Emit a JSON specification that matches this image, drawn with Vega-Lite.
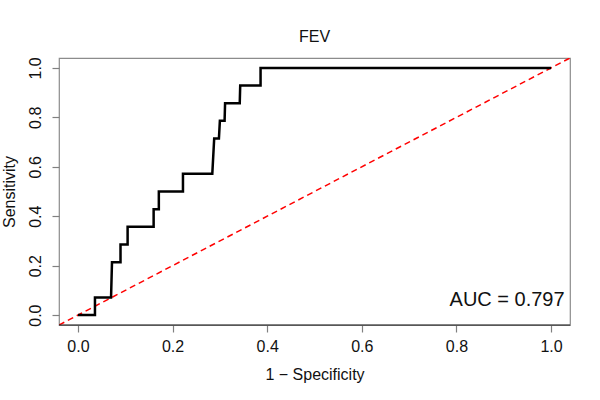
{
  "$schema": "https://vega.github.io/schema/vega-lite/v6.json",
  "width": 511,
  "height": 267,
  "autosize": "none",
  "padding": {"left": 59, "top": 58, "right": 30, "bottom": 75},
  "background": "white",
  "config": {
    "font": "Liberation Sans",
    "view": {"stroke": "#8c8c8c", "strokeWidth": 1.2},
    "axis": {
      "grid": false,
      "domain": false,
      "tickColor": "#808080",
      "tickSize": 7,
      "tickWidth": 1.2,
      "labelFont": "Liberation Sans",
      "labelFontSize": 16,
      "labelColor": "#111",
      "titleFont": "Liberation Sans",
      "titleFontSize": 16,
      "titleFontWeight": "normal",
      "titleColor": "#111"
    }
  },
  "title": {
    "text": "FEV",
    "font": "Liberation Sans",
    "fontSize": 16,
    "fontWeight": "normal",
    "color": "#111",
    "offset": 12
  },
  "datasets": {
    "roc": [
      {"i": 0, "fpr": 0.0, "tpr": 0.0},
      {"i": 1, "fpr": 0.036, "tpr": 0.0},
      {"i": 2, "fpr": 0.036, "tpr": 0.0714},
      {"i": 3, "fpr": 0.07, "tpr": 0.0714},
      {"i": 4, "fpr": 0.072, "tpr": 0.2143},
      {"i": 5, "fpr": 0.09, "tpr": 0.2143},
      {"i": 6, "fpr": 0.09, "tpr": 0.2857},
      {"i": 7, "fpr": 0.105, "tpr": 0.2857},
      {"i": 8, "fpr": 0.105, "tpr": 0.3571},
      {"i": 9, "fpr": 0.16, "tpr": 0.3571},
      {"i": 10, "fpr": 0.16, "tpr": 0.4286},
      {"i": 11, "fpr": 0.171, "tpr": 0.4286},
      {"i": 12, "fpr": 0.171, "tpr": 0.5},
      {"i": 13, "fpr": 0.222, "tpr": 0.5},
      {"i": 14, "fpr": 0.222, "tpr": 0.5714},
      {"i": 15, "fpr": 0.284, "tpr": 0.5714},
      {"i": 16, "fpr": 0.288, "tpr": 0.7143},
      {"i": 17, "fpr": 0.298, "tpr": 0.7143},
      {"i": 18, "fpr": 0.3, "tpr": 0.7857},
      {"i": 19, "fpr": 0.31, "tpr": 0.7857},
      {"i": 20, "fpr": 0.311, "tpr": 0.8571},
      {"i": 21, "fpr": 0.342, "tpr": 0.8571},
      {"i": 22, "fpr": 0.343, "tpr": 0.9286},
      {"i": 23, "fpr": 0.386, "tpr": 0.9286},
      {"i": 24, "fpr": 0.386, "tpr": 1.0},
      {"i": 25, "fpr": 1.0, "tpr": 1.0}
    ],
    "diag": [{"x": -0.04, "y": -0.04, "x2": 1.04, "y2": 1.04}],
    "auc": [{"x": 0.907, "y": 0.06, "label": "AUC = 0.797"}]
  },
  "layer": [
    {
      "data": {"name": "diag"},
      "mark": {"type": "rule", "color": "#ff0000", "strokeWidth": 1.5, "strokeDash": [6, 4], "clip": true},
      "encoding": {
        "x": {"field": "x", "type": "quantitative", "scale": {"domain": [-0.04, 1.04], "nice": false, "zero": false},
          "axis": {"values": [0, 0.2, 0.4, 0.6, 0.8, 1.0], "format": ".1f", "title": "1 − Specificity", "labelPadding": 6, "titlePadding": 12}},
        "y": {"field": "y", "type": "quantitative", "scale": {"domain": [-0.04, 1.04], "nice": false, "zero": false},
          "axis": {"values": [0, 0.2, 0.4, 0.6, 0.8, 1.0], "format": ".1f", "title": "Sensitivity", "labelAngle": -90, "labelAlign": "center", "labelBaseline": "bottom", "labelPadding": 9, "titlePadding": 10}},
        "x2": {"field": "x2"},
        "y2": {"field": "y2"}
      }
    },
    {
      "data": {"name": "roc"},
      "mark": {"type": "line", "color": "#000000", "strokeWidth": 2.5, "strokeJoin": "miter"},
      "encoding": {
        "x": {"field": "fpr", "type": "quantitative"},
        "y": {"field": "tpr", "type": "quantitative"},
        "order": {"field": "i", "type": "quantitative"}
      }
    },
    {
      "data": {"name": "auc"},
      "mark": {"type": "text", "fontSize": 20, "color": "#111", "align": "center", "baseline": "middle", "font": "Liberation Sans"},
      "encoding": {
        "x": {"field": "x", "type": "quantitative"},
        "y": {"field": "y", "type": "quantitative"},
        "text": {"field": "label"}
      }
    },
    {
      "mark": {"type": "rule", "color": "#222", "strokeWidth": 1.2},
      "data": {"values": [{"a": -0.04, "b": 1.04, "c": -0.04}]},
      "encoding": {
        "x": {"field": "a", "type": "quantitative"},
        "x2": {"field": "b"},
        "y": {"field": "c", "type": "quantitative"}
      }
    }
  ]
}
